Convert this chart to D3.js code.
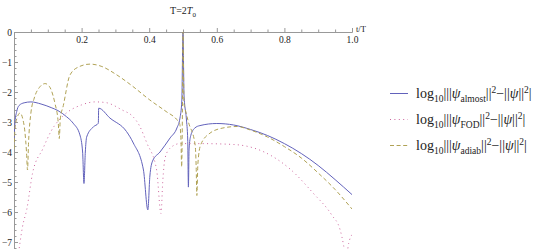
<!DOCTYPE html>
<html lang="en">
<head>
<meta charset="UTF-8">
<title>T=2T0 log error</title>
<script src="https://cdn.jsdelivr.net/npm/d3@7/dist/d3.min.js"></script>
<style>
    body { margin: 0; background: #fff; }
    text { font-family: "Liberation Serif", "DejaVu Serif", serif; fill: #222; }
    .axis path, .axis line { stroke: #999; stroke-width: 1px; }
    .axis text { font-family: "Liberation Serif", serif; font-size: 9.5px; fill: #222; }
    path.curve { fill: none; stroke-width: 1px; }
</style>
</head>
<body>
<svg id="main" width="545" height="249"></svg>
<script>
    // series as [t/T, log10 value]
    const almost = [
        [0.0, -3.6], [0.003, -3.0], [0.008, -2.65], [0.015, -2.45], [0.03, -2.36], [0.05, -2.33],
        [0.08, -2.4], [0.11, -2.52], [0.13, -2.62], [0.155, -2.82], [0.175, -3.04], [0.195, -3.43],
        [0.203, -4.0], [0.207, -5.05], [0.211, -4.0], [0.215, -3.5], [0.235, -3.16], [0.2495, -3.04],
        [0.2505, -2.54], [0.284, -2.87], [0.333, -3.32], [0.353, -3.7], [0.383, -4.6], [0.396, -5.93],
        [0.402, -4.8], [0.41, -4.3], [0.432, -4.0], [0.462, -3.53], [0.482, -3.2], [0.491, -2.87],
        [0.4965, -2.3], [0.5, 0], [0.503, -2.1], [0.51, -2.9], [0.514, -3.6], [0.516, -5.17],
        [0.518, -3.9], [0.523, -3.45], [0.535, -3.2], [0.55, -3.12], [0.6, -3.05], [0.65, -3.1],
        [0.7, -3.25], [0.75, -3.45], [0.8, -3.72], [0.85, -4.05], [0.9, -4.45], [0.95, -4.92], [1.0, -5.42]
    ];
    const fod = [
        [0.012, -7.5], [0.018, -7.0], [0.025, -6.5], [0.038, -5.9], [0.055, -4.7], [0.085, -3.9],
        [0.11, -3.3], [0.15, -2.75], [0.2, -2.43], [0.24, -2.33], [0.27, -2.35], [0.32, -2.6],
        [0.35, -2.8], [0.37, -3.1], [0.393, -3.7], [0.422, -4.6], [0.435, -6.05], [0.44, -5.0],
        [0.447, -4.2], [0.462, -3.87], [0.491, -3.72], [0.55, -3.72], [0.65, -3.75], [0.74, -4.0],
        [0.82, -4.6], [0.885, -5.37], [0.94, -6.1], [0.965, -6.6], [0.975, -7.1], [0.982, -7.6],
        [0.99, -7.05], [1.0, -6.75]
    ];
    const adiab = [
        [0.0, -3.9], [0.003, -3.2], [0.008, -2.9], [0.018, -2.7], [0.026, -2.9], [0.032, -3.3],
        [0.037, -4.0], [0.04, -4.6], [0.043, -3.7], [0.05, -2.7], [0.06, -2.2], [0.075, -1.85],
        [0.092, -1.72], [0.105, -1.82], [0.115, -2.1], [0.121, -2.37], [0.131, -3.04], [0.134, -3.55],
        [0.137, -2.9], [0.146, -2.45], [0.165, -1.45], [0.19, -1.17], [0.225, -1.07], [0.26, -1.15],
        [0.3, -1.4], [0.35, -1.8], [0.4, -2.25], [0.45, -2.65], [0.48, -2.9], [0.49, -3.05],
        [0.494, -3.6], [0.496, -4.5], [0.498, -3.0], [0.5, 0], [0.503, -2.4], [0.506, -2.55],
        [0.516, -3.0], [0.536, -3.77], [0.539, -4.5], [0.541, -5.45], [0.544, -4.4], [0.552, -3.77],
        [0.58, -3.37], [0.618, -3.2], [0.66, -3.15], [0.7, -3.27], [0.75, -3.5], [0.8, -3.82],
        [0.85, -4.2], [0.9, -4.7], [0.95, -5.25], [1.0, -5.9]
    ];
    const xMajorTicks = [0.2, 0.4, 0.6, 0.8, 1.0];
    const yMajorTicks = [0, -1, -2, -3, -4, -5, -6, -7];
    const seriesNames = ['almost', 'FOD', 'adiab'];

    let svg = d3.select('svg#main');

    let xScale = d3.scaleLinear().domain([0, 1]).range([14, 352]);
    let yScale = d3.scaleLinear().domain([-7, 0]).range([242, 32]);
    let yLow = -7.25;

    // clip to the plotting region
    svg.append('clipPath').attr('id', 'plotClip')
        .append('rect')
        .attr('x', xScale(0)).attr('y', yScale(0) - 2)
        .attr('width', xScale(1) - xScale(0)).attr('height', yScale(yLow) - yScale(0) + 2);

    // axes: ticks point into the plot, like the original
    let xMinor = d3.range(0.05, 1.0001, 0.05).filter(function(d){ return Math.abs(d * 5 - Math.round(d * 5)) > 1e-6; });
    let yMinor = d3.range(-7.2, 0, 0.2).filter(function(d){ return Math.abs(d - Math.round(d)) > 1e-6; });

    let yAxisScale = yScale.copy().domain([yLow, 0]).range([yScale(yLow), yScale(0)]);

    svg.append('g').attr('class', 'axis')
        .attr('transform', 'translate(0,' + yScale(0) + ')')
        .call(d3.axisBottom(xScale).tickValues(xMinor).tickSize(-2.5).tickSizeOuter(0).tickFormat(''));
    svg.append('g').attr('class', 'axis')
        .attr('transform', 'translate(0,' + yScale(0) + ')')
        .call(d3.axisBottom(xScale).tickValues(xMajorTicks).tickSize(-4).tickSizeOuter(0).tickPadding(4)
            .tickFormat(d3.format('.1f')));
    svg.append('g').attr('class', 'axis')
        .attr('transform', 'translate(' + xScale(0) + ',0)')
        .call(d3.axisLeft(yAxisScale).tickValues(yMinor).tickSize(-2.5).tickSizeOuter(0).tickFormat(''));
    svg.append('g').attr('class', 'axis')
        .attr('transform', 'translate(' + xScale(0) + ',0)')
        .call(d3.axisLeft(yAxisScale).tickValues(yMajorTicks).tickSize(-4).tickSizeOuter(0).tickPadding(2)
            .tickFormat(d3.format('d')));
    svg.selectAll('.axis').attr('font-family', 'Liberation Serif');

    // curves
    let line = d3.line()
        .x(function(d){ return xScale(d[0]); })
        .y(function(d){ return yScale(d[1]); })
        .curve(d3.curveMonotoneX);

    let styles = {
        almost: {stroke: '#6262bb', dash: null},
        FOD: {stroke: '#cc649c', dash: '1,3.4'},
        adiab: {stroke: '#b0a255', dash: '4,2.6'}
    };

    let fig = svg.append('g').attr('clip-path', 'url(#plotClip)');
    [almost, fod, adiab].forEach(function(data, i){
        let st = styles[seriesNames[i]];
        fig.append('path').datum(data)
            .attr('class', 'curve')
            .attr('d', line)
            .attr('stroke', st.stroke)
            .attr('stroke-dasharray', st.dash);
    });

    // title and axis label
    let title = svg.append('text').attr('x', 183).attr('y', 14).attr('text-anchor', 'middle')
        .style('font-size', '10px');
    title.append('tspan').text('T=2');
    title.append('tspan').style('font-style', 'italic').text('T');
    title.append('tspan').attr('dy', 2.5).style('font-size', '7px').text('0');

    svg.append('text').attr('x', 356).attr('y', 32).style('font-size', '8.5px').text('t/T');

    // legend
    let legend = svg.append('g');
    seriesNames.forEach(function(name, i){
        let st = styles[name];
        let yy = 93.5 + i * 26;
        legend.append('line')
            .attr('x1', 390).attr('x2', 408).attr('y1', yy).attr('y2', yy)
            .attr('stroke', st.stroke).attr('stroke-width', 1)
            .attr('stroke-dasharray', st.dash);
        let t = legend.append('text').attr('x', 416).attr('y', yy + 4.5).style('font-size', '14px');
        t.append('tspan').text('log');
        t.append('tspan').attr('dy', 3.5).style('font-size', '9.5px').text('10');
        t.append('tspan').attr('dy', -3.5).text('|||');
        t.append('tspan').style('font-style', 'italic').text('ψ');
        t.append('tspan').attr('dy', 3.5).style('font-size', '9.5px').text(name);
        t.append('tspan').attr('dy', -3.5).text('||');
        t.append('tspan').attr('dy', -5).style('font-size', '9.5px').text('2');
        t.append('tspan').attr('dy', 5).text('−||');
        t.append('tspan').style('font-style', 'italic').text('ψ');
        t.append('tspan').text('||');
        t.append('tspan').attr('dy', -5).style('font-size', '9.5px').text('2');
        t.append('tspan').attr('dy', 5).text('|');
    });
</script>
</body>
</html>
